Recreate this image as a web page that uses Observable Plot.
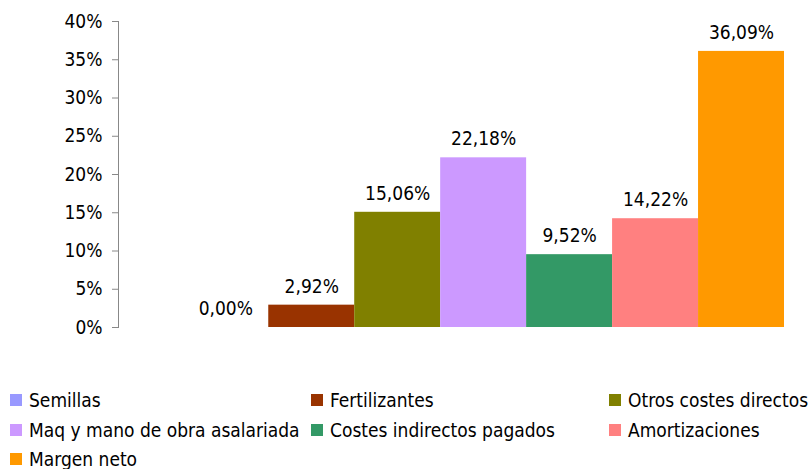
<!DOCTYPE html>
<html><head><meta charset="utf-8">
<script src="https://cdn.jsdelivr.net/npm/d3@7"></script>
<script src="https://cdn.jsdelivr.net/npm/@observablehq/plot@0.6"></script>
<style>
body{margin:0;background:#fff;font-family:"DejaVu Sans Condensed","DejaVu Sans",sans-serif;}
#wrap{position:relative;width:812px;height:469px;overflow:hidden;}
#legend{position:absolute;left:0;top:388px;width:812px;font-size:19px;line-height:24px;color:#000;}
.li{position:absolute;display:flex;align-items:center;white-space:nowrap;}
.sw{width:12px;height:12px;margin-right:7px;}
</style></head><body>
<div id="wrap"><div id="chart"></div><div id="legend"></div></div>
<script>
const categories = ["Semillas","Fertilizantes","Otros costes directos","Maq y mano de obra asalariada","Costes indirectos pagados","Amortizaciones","Margen neto"];
const values = [0.0000, 0.0292, 0.1506, 0.2218, 0.0952, 0.1422, 0.3609];
const colors = ["#9999FF","#993300","#808000","#CC99FF","#339966","#FF8080","#FF9900"];
const yTicks = [0,0.05,0.10,0.15,0.20,0.25,0.30,0.35,0.40];

const data = categories.map((c,i)=>({cat:c, value:values[i]}));
const es = d3.formatLocale({decimal:",", thousands:".", grouping:[3], currency:["","€"]});
const fmtLabel = es.format(".2%");
const fmtTick = es.format(".0%");

const chart = Plot.plot({
  width: 812, height: 340,
  marginTop: 21, marginBottom: 13, marginLeft: 118, marginRight: 0,
  style: {fontFamily: '"DejaVu Sans Condensed","DejaVu Sans",sans-serif', fontSize: "19px", color: "#000", background: "#fff", overflow: "visible"},
  x: {domain: categories, range: [182.3, 784], padding: 0, round: false, axis: null},
  y: {domain: [0, 0.4], label: null},
  color: {domain: categories, range: colors},
  marks: [
    Plot.barY(data, {x: "cat", y: "value", fill: "cat", inset: 0}),
    Plot.text(data, {x: "cat", y: "value", text: d => fmtLabel(d.value), dy: -18.5, fontSize: 19, fill: "#000"}),
    Plot.axisY({ticks: yTicks, tickFormat: fmtTick, tickSize: 6, tickPadding: 10, stroke: "#888", fontSize: 19, fill: "#000", label: null}),
    Plot.frame({anchor: "left", stroke: "#888"})
  ]
});
document.getElementById("chart").appendChild(chart);

const legend = document.getElementById("legend");
const colX = [10, 311, 609];
categories.forEach((c,i)=>{
  const row = Math.floor(i/3), col = i%3;
  const el = document.createElement("div");
  el.className = "li";
  el.style.left = colX[col] + "px";
  el.style.top = (row*29.5) + "px";
  el.innerHTML = `<div class="sw" style="background:${colors[i]}"></div><span>${c}</span>`;
  legend.appendChild(el);
});
</script>
</body></html>
